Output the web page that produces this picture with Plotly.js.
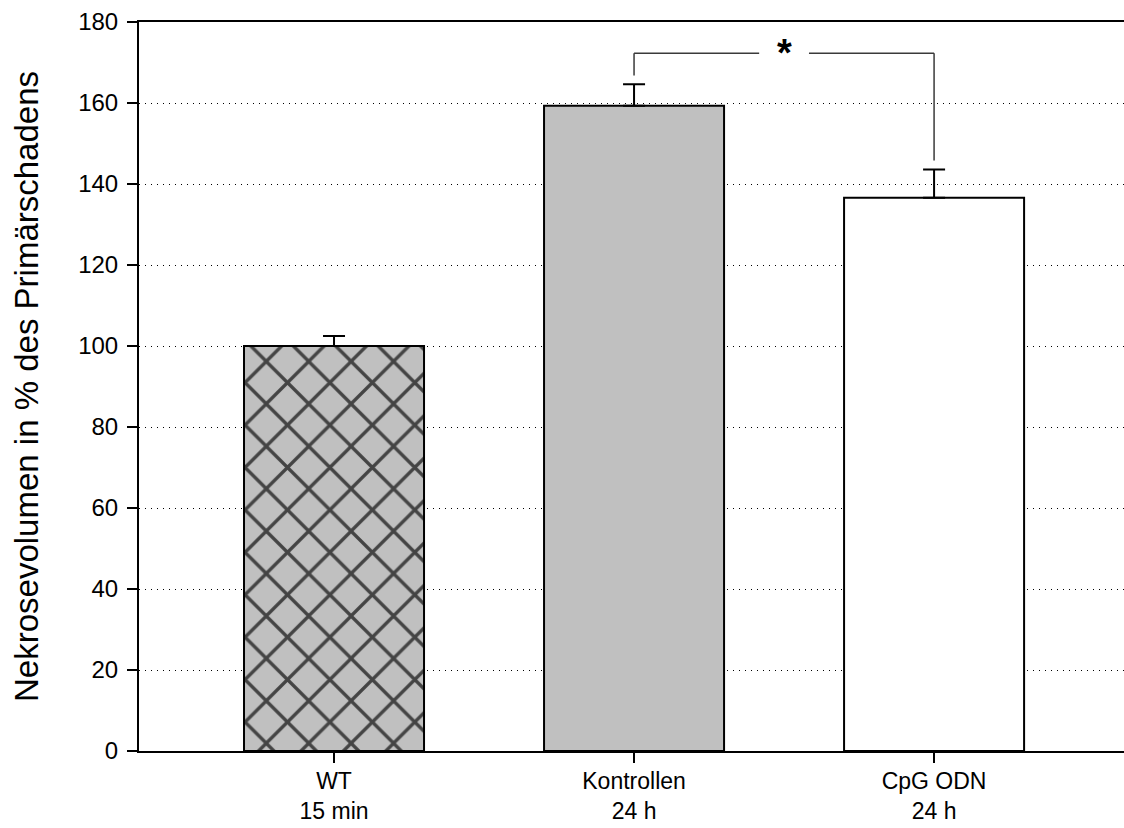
<!DOCTYPE html>
<html>
<head>
<meta charset="utf-8">
<script src="https://cdn.plot.ly/plotly-3.0.1.min.js"></script>
<style>html,body{margin:0;padding:0;background:#fff;}</style>
</head>
<body>
<div id="chart" style="width:1124px;height:828px;"></div>
<script>
// ---- data ----
const categories = [0, 1, 2];
const tickLabels = ["WT<br>15 min", "Kontrollen<br>24 h", "CpG ODN<br>24 h"];
const values = [100.0, 159.3, 136.6];
const errors = [2.5, 5.3, 7.0];
const yTicks = [0, 20, 40, 60, 80, 100, 120, 140, 160, 180];
const sigPair = [1, 2];
const sigLabel = "*";

// ---- styles ----
const FONT = "Liberation Sans, Arial, sans-serif";
const fills = ["#c0c0c0", "#c0c0c0", "#ffffff"];
const patterns = ["x", "", ""];

const trace = {
  type: "bar",
  x: categories,
  y: values,
  width: 0.6,
  marker: {
    color: fills,
    line: {color: "#000", width: 2},
    pattern: {shape: patterns, bgcolor: fills, fgcolor: "#000", fgopacity: 1, size: 30, solidity: 0.21, fillmode: "overlay"}
  },
  error_y: {
    type: "data", symmetric: false, array: errors,
    arrayminus: errors.map(() => 0),
    color: "#000", thickness: 2, width: 11
  },
  hoverinfo: "skip"
};

// significance bracket derived from the data
const gap = 2.2;
const bracketY = 172.3;
const topL = values[sigPair[0]] + errors[sigPair[0]] + gap;
const topR = values[sigPair[1]] + errors[sigPair[1]] + gap;
const mid = (sigPair[0] + sigPair[1]) / 2;
const halfGap = 0.083;
const lineStyle = {color: "#3a3a3a", width: 1.5};
const shapes = [
  {type: "line", xref: "x", yref: "y", x0: sigPair[0], x1: sigPair[0], y0: topL, y1: bracketY, line: lineStyle},
  {type: "line", xref: "x", yref: "y", x0: sigPair[0], x1: mid - halfGap, y0: bracketY, y1: bracketY, line: lineStyle},
  {type: "line", xref: "x", yref: "y", x0: mid + halfGap, x1: sigPair[1], y0: bracketY, y1: bracketY, line: lineStyle},
  {type: "line", xref: "x", yref: "y", x0: sigPair[1], x1: sigPair[1], y0: topR, y1: bracketY, line: lineStyle}
];

const layout = {
  width: 1124, height: 828,
  margin: {l: 139, r: 0, t: 22, b: 77, pad: 0},
  paper_bgcolor: "#fff", plot_bgcolor: "#fff",
  showlegend: false,
  font: {family: FONT, size: 23, color: "#000"},
  xaxis: {
    range: [-0.65, 2.633],
    tickmode: "array", tickvals: categories, ticktext: tickLabels,
    ticks: "outside", ticklen: 10, tickwidth: 2, tickcolor: "#000",
    showline: true, linewidth: 2, linecolor: "#000", mirror: true,
    showgrid: false, zeroline: false,
    ticklabelstandoff: -2,
    tickfont: {family: FONT, size: 23, color: "#000"}
  },
  yaxis: {
    range: [0, 180],
    tickmode: "array", tickvals: yTicks,
    ticks: "outside", ticklen: 10, tickwidth: 2, tickcolor: "#000",
    showline: true, linewidth: 2, linecolor: "#000",
    showgrid: true, gridcolor: "#000", gridwidth: 1, griddash: "1px,5px",
    zeroline: false,
    ticklabelstandoff: 4,
    tickfont: {family: FONT, size: 24, color: "#000"},
    title: {text: "Nekrosevolumen in % des Primärschadens", font: {family: FONT, size: 33, color: "#000"}, standoff: 30}
  },
  shapes: shapes,
  annotations: [
    {xref: "x", yref: "y", x: mid, y: bracketY, text: "<b>" + sigLabel + "</b>", showarrow: false,
     font: {family: FONT, size: 38, color: "#000"}, xanchor: "center", yanchor: "middle", yshift: 0}
  ]
};

Plotly.newPlot("chart", [trace], layout, {displayModeBar: false, staticPlot: true});
</script>
</body>
</html>
